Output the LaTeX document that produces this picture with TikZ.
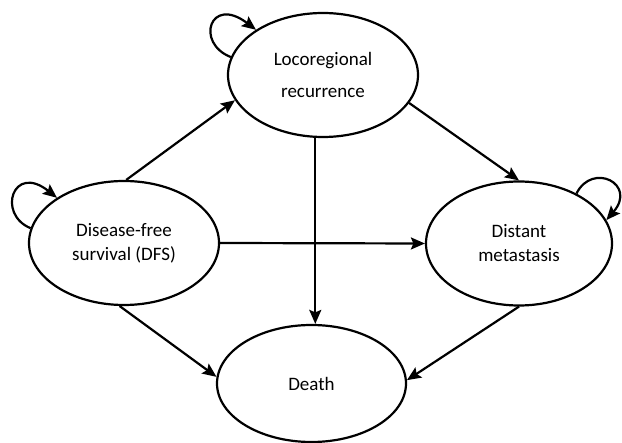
\documentclass[tikz,border=0pt]{standalone}
\usepackage{fontspec}
\setmainfont{Carlito}
\usetikzlibrary{shapes.geometric,arrows.meta}
\begin{document}
\begin{tikzpicture}[x=1pt,y=-1pt,
  state/.style={draw,ellipse,line width=2.2pt,inner sep=0pt,align=center,
    font=\fontsize{19}{24}\selectfont},
  arr/.style={line width=2.2pt,-{Stealth[length=14pt,width=12pt,inset=2.5pt]}}]
\useasboundingbox (0,0) rectangle (622,443);
\node[state,minimum width=190pt,minimum height=124pt] (loco) at (323,75) {Locoregional\\[8pt]recurrence};
\node[state,minimum width=190pt,minimum height=124pt] (dfs) at (124,243) {Disease-free\\survival (DFS)};
\node[state,minimum width=186pt,minimum height=124pt] (dist) at (519,243.5) {Distant\\metastasis};
\node[state,minimum width=189pt,minimum height=117pt] (death) at (311.5,383.5) {\raisebox{-4pt}{Death}};
% transitions
\draw[arr] (dfs.88) -- (loco.196);
\draw[arr] (loco.342) -- (dist.north);
\draw[arr] (loco.263) -- (loco.263 |- death.north);
\draw[arr] (dfs.east) -- (dist.west);
\draw[arr] (dfs.266) -- (death.176);
\draw[arr] (dist.270) -- (death.2);
% self loops
\draw[arr] (dfs.171) .. controls +(-34,-14) and +(-44,-35) .. (dfs.146);
\draw[arr] (loco.169) .. controls +(-36,-14) and +(-46,-35) .. (loco.146);
\draw[arr] (dist.41) .. controls +(16,-32) and +(31,-36) .. (dist.15);
\end{tikzpicture}
\end{document}
